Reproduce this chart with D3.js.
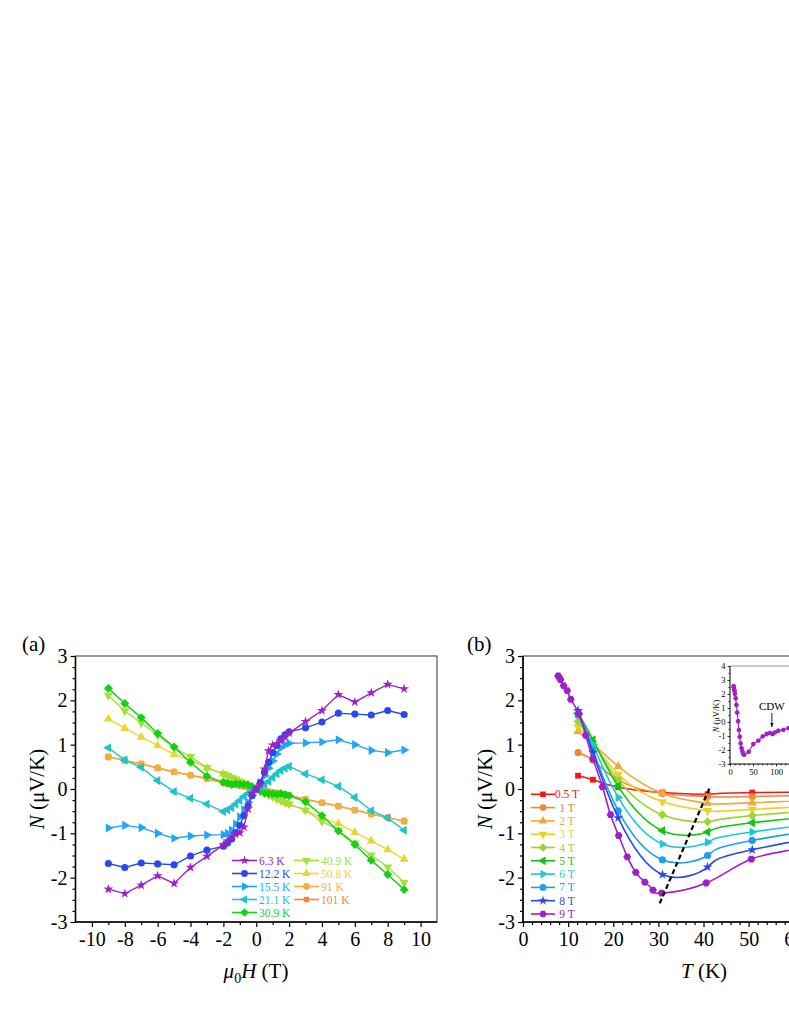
<!DOCTYPE html>
<html>
<head>
<meta charset="utf-8">
<script src="https://cdn.jsdelivr.net/npm/d3@7"></script>
<style>
  html, body { margin: 0; padding: 0; background: #fff; }
  svg { display: block; }
  text { font-family: "Liberation Serif", "Times New Roman", serif; }
</style>
</head>
<body>
<script>
// ---- panel (a): N vs field at fixed temperature ----
const fieldH = [-9, -8, -7, -6, -5, -4, -3, -2, -1.75, -1.5, -1.25, -1, -0.75, -0.5, -0.25, 0,
  0.25, 0.5, 0.75, 1, 1.25, 1.5, 1.75, 2, 3, 4, 5, 6, 7, 8, 9];

const n6_3 = [-2.26, -2.36, -2.17, -1.96, -2.13, -1.77, -1.52, -1.26, -1.17, -1.08, -1.02, -0.99, -0.86, -0.45, -0.10, 0,
  0.10, 0.45, 0.86, 0.99, 1.02, 1.08, 1.17, 1.26, 1.52, 1.77, 2.13, 1.96, 2.17, 2.36, 2.26];
const n12_2 = [-1.68, -1.77, -1.67, -1.69, -1.71, -1.51, -1.38, -1.29, -1.22, -1.13, -0.98, -0.82, -0.60, -0.38, -0.15, 0,
  0.15, 0.38, 0.60, 0.82, 0.98, 1.13, 1.22, 1.29, 1.38, 1.51, 1.71, 1.69, 1.67, 1.77, 1.68];
const n15_5 = [-0.88, -0.82, -0.87, -1.00, -1.11, -1.06, -1.04, -1.03, -1.00, -0.93, -0.79, -0.63, -0.47, -0.30, -0.14, 0,
  0.14, 0.30, 0.47, 0.63, 0.79, 0.93, 1.00, 1.03, 1.04, 1.06, 1.11, 1.00, 0.87, 0.82, 0.88];
const n21_1 = [0.93, 0.65, 0.49, 0.19, -0.06, -0.21, -0.34, -0.51, -0.47, -0.42, -0.34, -0.26, -0.17, -0.10, -0.04, 0,
  0.04, 0.10, 0.17, 0.26, 0.34, 0.42, 0.47, 0.51, 0.34, 0.21, 0.06, -0.19, -0.49, -0.65, -0.93];
const n30_9 = [2.27, 1.93, 1.61, 1.25, 0.95, 0.60, 0.29, 0.15, 0.13, 0.10, 0.12, 0.11, 0.10, 0.09, 0.05, 0,
  -0.05, -0.09, -0.10, -0.11, -0.12, -0.10, -0.13, -0.15, -0.29, -0.60, -0.95, -1.25, -1.61, -1.93, -2.27];
const n40_9 = [2.11, 1.76, 1.49, 1.22, 0.93, 0.73, 0.48, 0.34, 0.30, 0.26, 0.22, 0.17, 0.13, 0.09, 0.04, 0,
  -0.04, -0.09, -0.13, -0.17, -0.22, -0.26, -0.30, -0.34, -0.48, -0.73, -0.93, -1.22, -1.49, -1.76, -2.11];
const n50_8 = [1.58, 1.37, 1.17, 0.98, 0.78, 0.65, 0.47, 0.34, 0.30, 0.25, 0.20, 0.16, 0.12, 0.08, 0.04, 0,
  -0.04, -0.08, -0.12, -0.16, -0.20, -0.25, -0.30, -0.34, -0.47, -0.65, -0.78, -0.98, -1.17, -1.37, -1.58];
const n91 = [0.72, 0.65, 0.56, 0.48, 0.39, 0.31, 0.24, 0.15, 0.13, 0.12, 0.10, 0.08, 0.06, 0.04, 0.02, 0,
  -0.02, -0.04, -0.06, -0.08, -0.10, -0.12, -0.13, -0.15, -0.24, -0.31, -0.39, -0.48, -0.56, -0.65, -0.72];
const n101 = [0.73, 0.64, 0.57, 0.47, 0.38, 0.31, 0.23, 0.14, 0.12, 0.11, 0.09, 0.07, 0.06, 0.04, 0.02, 0,
  -0.02, -0.04, -0.06, -0.07, -0.09, -0.11, -0.12, -0.14, -0.23, -0.31, -0.38, -0.47, -0.57, -0.64, -0.73];

const labelsA = ['6.3 K', '12.2 K', '15.5 K', '21.1 K', '30.9 K', '40.9 K', '50.8 K', '91 K', '101 K'];
const valuesA = [n6_3, n12_2, n15_5, n21_1, n30_9, n40_9, n50_8, n91, n101];
const colorsA = ['#a020c8', '#2a48f2', '#20a6f6', '#20c4c8', '#12d012', '#a2e03a', '#e6d636', '#f0b03c', '#f08a36'];
const symbolsA = ['star', 'circle', 'triR', 'triL', 'diamond', 'triD', 'triU', 'circle', 'square'];

// ---- panel (b): N vs temperature at fixed field ----
const tempsB = [12.2, 15.5, 21.1, 30.9, 40.9, 50.8, 91, 101];
const n05T = [0.30, 0.21, 0.04, -0.08, -0.12, -0.08, -0.05, -0.04];
const n1T = [0.82, 0.65, 0.20, -0.10, -0.17, -0.17, -0.08, -0.07];
const n2T = [1.30, 1.02, 0.51, -0.10, -0.32, -0.31, -0.15, -0.14];
const n3T = [1.40, 1.04, 0.33, -0.29, -0.49, -0.46, -0.24, -0.23];
const n4T = [1.52, 1.06, 0.20, -0.58, -0.74, -0.60, -0.31, -0.31];
const n5T = [1.71, 1.11, 0.06, -0.94, -0.97, -0.76, -0.39, -0.38];
const n6T = [1.69, 1.00, -0.19, -1.24, -1.20, -0.97, -0.48, -0.47];
const n7T = [1.67, 0.87, -0.49, -1.60, -1.50, -1.16, -0.56, -0.57];
const n8T = [1.77, 0.82, -0.65, -1.93, -1.76, -1.37, -0.65, -0.64];

// 9 T temperature sweep (also shown in the inset)
const tSweep9T = [7.8, 8.3, 9.0, 9.8, 10.6, 12.4, 13.9, 15.5, 17.6, 19.4, 21.2, 23.1, 25.0, 27.0, 28.8, 30.7,
  40.6, 50.6, 61.6, 71, 79.7, 87, 92.8, 97.8, 105, 116, 127];
const nSweep9T = [2.55, 2.47, 2.33, 2.22, 2.02, 1.70, 1.21, 0.68, 0.05, -0.58, -1.05, -1.53, -1.88, -2.10, -2.28, -2.35,
  -2.12, -1.58, -1.33, -1.03, -0.86, -0.79, -0.86, -0.74, -0.63, -0.56, -0.44];

const labelsB = ['0.5 T', '1 T', '2 T', '3 T', '4 T', '5 T', '6 T', '7 T', '8 T', '9 T'];
const xsB = [tempsB, tempsB, tempsB, tempsB, tempsB, tempsB, tempsB, tempsB, tempsB, tSweep9T];
const valuesB = [n05T, n1T, n2T, n3T, n4T, n5T, n6T, n7T, n8T, nSweep9T];
const colorsB = ['#f01818', '#f08636', '#f2a83a', '#e8d228', '#9cd432', '#10c410', '#20c8d4', '#1e9ef2', '#2a48f2', '#a020c8'];
const symbolsB = ['square', 'circle', 'triU', 'triD', 'diamond', 'triL', 'triR', 'circle', 'star', 'hex'];

// dashed guide line through the minima
const dashT = [30.3, 41.5];
const dashN = [-2.58, 0.06];

// ticks
const yTicks = [-3, -2, -1, 0, 1, 2, 3];
const xTicksA = [-10, -8, -6, -4, -2, 0, 2, 4, 6, 8, 10];
const xTicksB = [0, 10, 20, 30, 40, 50, 60];
const insetYTicks = [-3, -2, -1, 0, 1, 2, 3, 4];
const insetXTicks = [0, 50, 100];

// ---- symbols ----
function polySym(n, angle, areaFactor) {
  return {
    draw(ctx, size) {
      const r = Math.sqrt(size / areaFactor);
      for (let i = 0; i < n; i++) {
        const a = angle + i * 2 * Math.PI / n;
        const x = r * Math.cos(a), y = r * Math.sin(a);
        if (i === 0) ctx.moveTo(x, y); else ctx.lineTo(x, y);
      }
      ctx.closePath();
    }
  };
}
const TRI = 3 * Math.sqrt(3) / 4;
const SYM = {
  star: d3.symbolStar,
  circle: d3.symbolCircle,
  square: d3.symbolSquare,
  diamond: polySym(4, -Math.PI / 2, 2),
  triU: polySym(3, -Math.PI / 2, TRI),
  triD: polySym(3, Math.PI / 2, TRI),
  triR: polySym(3, 0, TRI),
  triL: polySym(3, Math.PI, TRI),
  hex: polySym(6, 0, 3 * Math.sqrt(3) / 2)
};
const SYM_SIZE = { star: 30, circle: 40, square: 34, diamond: 40, triU: 36, triD: 36, triR: 36, triL: 36, hex: 40 };

const svg = d3.select('body').append('svg')
  .attr('width', 789).attr('height', 1021);

const defs = svg.append('defs');

function drawAxes(g, x, y, xMajors, xMinors, yMinors, frameColor) {
  const [x0, x1] = x.range();
  const [y0, y1] = y.range();
  // frame
  g.append('rect')
    .attr('x', x0).attr('y', y1).attr('width', x1 - x0).attr('height', y0 - y1)
    .attr('fill', 'none').attr('stroke', frameColor).attr('stroke-width', 1);

  g.append('g').attr('transform', `translate(${x0},0)`)
    .call(d3.axisLeft(y).tickValues(yTicks).tickSize(5).tickPadding(3).tickFormat(d => String(d)));
  g.append('g').attr('transform', `translate(${x0},0)`)
    .call(d3.axisLeft(y).tickValues(yMinors).tickSize(3).tickFormat(''));
  g.append('g').attr('transform', `translate(0,${y0})`)
    .call(d3.axisBottom(x).tickValues(xMajors).tickSize(5).tickPadding(5).tickFormat(d => String(d)));
  g.append('g').attr('transform', `translate(0,${y0})`)
    .call(d3.axisBottom(x).tickValues(xMinors).tickSize(3).tickFormat(''));

  g.selectAll('.domain').remove();
  g.selectAll('.tick line').attr('stroke', '#000').attr('stroke-width', 1.2);
  g.selectAll('.tick text').attr('font-size', 20).attr('fill', '#000')
    .style('font-family', '"Liberation Serif", "Times New Roman", serif');

  g.append('line').attr('x1', x0).attr('x2', x0).attr('y1', y1).attr('y2', y0 + 0.6)
    .attr('stroke', '#000').attr('stroke-width', 1.6);
  g.append('line').attr('x1', x0 - 0.6).attr('x2', x1).attr('y1', y0).attr('y2', y0)
    .attr('stroke', '#000').attr('stroke-width', 1.6);
}

function drawSeries(g, x, y, xs, ys, color, sym, curve, width, scale) {
  const pts = xs.map((v, i) => [v, ys[i]]);
  g.append('path').datum(pts)
    .attr('d', d3.line().x(d => x(d[0])).y(d => y(d[1])).curve(curve))
    .attr('fill', 'none').attr('stroke', color).attr('stroke-width', width);
  g.selectAll(null).data(pts).join('path')
    .attr('transform', d => `translate(${x(d[0])},${y(d[1])})`)
    .attr('d', d3.symbol().type(SYM[sym]).size(SYM_SIZE[sym] * scale))
    .attr('fill', color);
}

function legendItem(g, xLine0, xLine1, yc, color, sym, label, textX, anchor) {
  g.append('line').attr('x1', xLine0).attr('x2', xLine1).attr('y1', yc).attr('y2', yc)
    .attr('stroke', color).attr('stroke-width', 1.6);
  g.append('path').attr('transform', `translate(${(xLine0 + xLine1) / 2},${yc})`)
    .attr('d', d3.symbol().type(SYM[sym]).size(SYM_SIZE[sym] * 0.9)).attr('fill', color);
  g.append('text').attr('x', textX).attr('y', yc + 4).attr('font-size', 11.5)
    .attr('text-anchor', anchor).attr('fill', color).text(label);
}

const yA = d3.scaleLinear([-3, 3], [922, 656]);
const yMinors = d3.range(-3, 3.001, 0.25).filter(v => !yTicks.includes(v));

// ================= panel (a) =================
const xA = d3.scaleLinear([-11, 11], [75.5, 437]);
const gA = svg.append('g');
drawAxes(gA, xA, yA, xTicksA, d3.range(-9, 10, 2), yMinors, '#333');

for (let i = valuesA.length - 1; i >= 0; i--) {
  drawSeries(gA, xA, yA, fieldH, valuesA[i], colorsA[i], symbolsA[i], d3.curveLinear, 1.4, 1);
}

// legend (a)
labelsA.forEach((lab, i) => {
  const col = i < 5 ? 0 : 1;
  const row = i < 5 ? i : i - 5;
  const xl = col === 0 ? 232 : 294;
  legendItem(gA, xl, xl + 25, 860.5 + row * 13, colorsA[i], symbolsA[i], lab, xl + 27, 'start');
});

gA.append('text').attr('x', 22).attr('y', 651).attr('font-size', 21).text('(a)');
gA.append('text').attr('transform', 'translate(44,789) rotate(-90)')
  .attr('text-anchor', 'middle').attr('font-size', 21)
  .html('<tspan font-style="italic">N</tspan> (μV/K)');
gA.append('text').attr('x', 256).attr('y', 978).attr('text-anchor', 'middle').attr('font-size', 21)
  .html('<tspan font-style="italic">μ</tspan><tspan font-size="14" dy="5">0</tspan><tspan dy="-5" font-style="italic">H</tspan> (T)');

// ================= panel (b) =================
const xB = d3.scaleLinear([0, 80], [523, 884]);
const gB = svg.append('g');
drawAxes(gB, xB, yA, xTicksB, d3.range(2, 80, 2).filter(v => v % 10 !== 0), yMinors, '#333');

defs.append('clipPath').attr('id', 'clipB').append('rect')
  .attr('x', 523).attr('y', 656).attr('width', 361).attr('height', 266);
const plotB = gB.append('g').attr('clip-path', 'url(#clipB)');

valuesB.forEach((vals, i) => {
  drawSeries(plotB, xB, yA, xsB[i], vals, colorsB[i], symbolsB[i], d3.curveNatural, 1.6, 1);
});

plotB.append('path').datum(dashT.map((t, i) => [t, dashN[i]]))
  .attr('d', d3.line().x(d => xB(d[0])).y(d => yA(d[1])))
  .attr('stroke', '#000').attr('stroke-width', 2.2).attr('stroke-dasharray', '5,3').attr('fill', 'none');

labelsB.forEach((lab, i) => {
  legendItem(gB, 531, 555, 794.3 + i * 13.3, colorsB[i], symbolsB[i], lab, 567, 'middle');
});

gB.append('text').attr('x', 467).attr('y', 651).attr('font-size', 21).text('(b)');
gB.append('text').attr('transform', 'translate(492,789) rotate(-90)')
  .attr('text-anchor', 'middle').attr('font-size', 21)
  .html('<tspan font-style="italic">N</tspan> (μV/K)');
gB.append('text').attr('x', 704).attr('y', 978).attr('text-anchor', 'middle').attr('font-size', 21)
  .html('<tspan font-style="italic">T</tspan> (K)');

// ================= inset =================
const xI = d3.scaleLinear([0, 160], [730, 803.6]);
const yI = d3.scaleLinear([-3, 4], [764, 666]);
const gI = svg.append('g');
gI.append('line').attr('x1', 730).attr('x2', 884).attr('y1', 666).attr('y2', 666)
  .attr('stroke', '#999').attr('stroke-width', 1.2);
gI.append('g').attr('transform', 'translate(730,0)')
  .call(d3.axisLeft(yI).tickValues(insetYTicks).tickSize(2.5).tickPadding(2).tickFormat(d => String(d)));
gI.append('g').attr('transform', 'translate(730,0)')
  .call(d3.axisLeft(yI).tickValues(d3.range(-2.5, 4, 1)).tickSize(1.5).tickFormat(''));
gI.append('g').attr('transform', 'translate(0,764)')
  .call(d3.axisBottom(xI).tickValues(insetXTicks).tickSize(2.5).tickPadding(2).tickFormat(d => String(d)));
gI.append('g').attr('transform', 'translate(0,764)')
  .call(d3.axisBottom(xI).tickValues(d3.range(10, 160, 10).filter(v => v % 50 !== 0)).tickSize(1.5).tickFormat(''));
gI.selectAll('.domain').remove();
gI.selectAll('.tick line').attr('stroke', '#000').attr('stroke-width', 0.8);
gI.selectAll('.tick text').attr('font-size', 8.5).attr('fill', '#000')
  .style('font-family', '"Liberation Serif", "Times New Roman", serif');
gI.append('line').attr('x1', 730).attr('x2', 730).attr('y1', 666).attr('y2', 764.4)
  .attr('stroke', '#000').attr('stroke-width', 1);
gI.append('line').attr('x1', 729.6).attr('x2', 884).attr('y1', 764).attr('y2', 764)
  .attr('stroke', '#000').attr('stroke-width', 1);
drawSeries(gI, xI, yI, tSweep9T, nSweep9T, '#a020c8', 'hex', d3.curveLinear, 1.1, 0.42);

gI.append('text').attr('transform', 'translate(719,716) rotate(-90)')
  .attr('text-anchor', 'middle').attr('font-size', 8.5)
  .html('<tspan font-style="italic">N</tspan> (μV/K)');
gI.append('text').attr('x', xI(91)).attr('y', 710).attr('text-anchor', 'middle').attr('font-size', 11).text('CDW');
defs.append('marker').attr('id', 'arrow').attr('viewBox', '0 0 10 10')
  .attr('refX', 10).attr('refY', 5).attr('markerWidth', 5).attr('markerHeight', 5).attr('orient', 'auto')
  .append('path').attr('d', 'M0,1 L10,5 L0,9 Z').attr('fill', '#000');
gI.append('line').attr('x1', xI(91)).attr('x2', xI(91)).attr('y1', 713).attr('y2', 727)
  .attr('stroke', '#000').attr('stroke-width', 0.9).attr('marker-end', 'url(#arrow)');
</script>
</body>
</html>
